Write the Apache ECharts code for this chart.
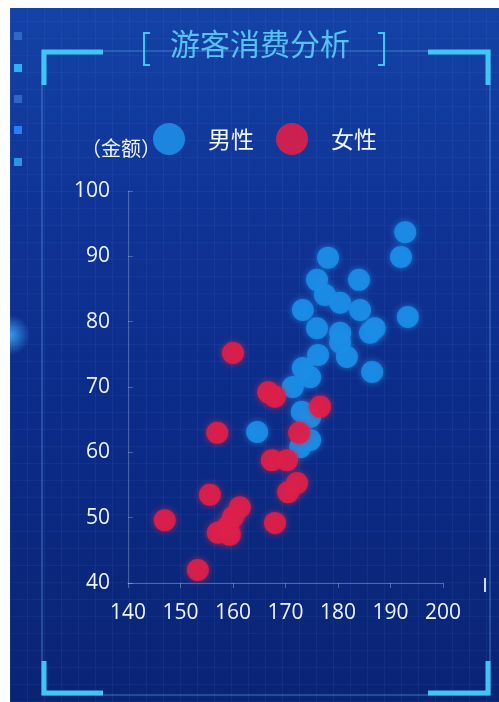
<!DOCTYPE html>
<html>
<head>
<meta charset="utf-8">
<script src="https://cdn.jsdelivr.net/npm/echarts@6/dist/echarts.min.js"></script>
<style>
  html, body { margin: 0; padding: 0; background: #ffffff; }
  #wrap {
    position: absolute; left: 10px; top: 8px; width: 489px; height: 694px;
    background-color: #0d2c8c;
    background-image:
      repeating-linear-gradient(90deg, rgba(120,170,255,0.07) 0px, rgba(120,170,255,0.07) 1px, transparent 1px, transparent 17px),
      repeating-linear-gradient(0deg, rgba(120,170,255,0.06) 0px, rgba(120,170,255,0.06) 1px, transparent 1px, transparent 17px),
      linear-gradient(180deg, #1442a6 0%, #0f3396 30%, #0c2b88 60%, #0a2474 100%);
  }
  #chart { position: absolute; left: 0; top: 0; width: 499px; height: 702px; }
</style>
</head>
<body>
<div id="wrap"></div>
<div id="chart"></div>
<script>
// Height (cm) vs. spending for male and female visitors
const seriesNames = ['男性', '女性'];
const xTicks = [140, 150, 160, 170, 180, 190, 200];
const yTicks = [40, 50, 60, 70, 80, 90, 100];

const maleData = [
  [192.8, 93.7], [192.0, 89.9], [178.1, 89.8], [176.0, 86.4], [184.0, 86.4],
  [177.5, 84.1], [180.4, 82.9], [173.3, 81.8], [184.2, 81.8], [193.3, 80.7],
  [176.0, 79.0], [180.4, 78.3], [187.0, 79.0], [186.1, 78.3], [180.4, 76.8],
  [181.7, 74.6], [186.5, 72.3], [176.2, 74.9], [173.3, 72.9], [174.7, 71.5],
  [171.4, 70.0], [173.1, 66.2], [174.7, 65.4], [174.7, 61.9], [172.8, 60.8],
  [164.6, 63.1]
];
const femaleData = [
  [147.0, 49.6], [153.3, 42.0], [155.6, 53.5], [157.0, 63.0], [160.0, 75.2],
  [157.1, 47.7], [159.0, 48.6], [159.4, 47.4], [160.0, 50.1], [161.3, 51.6],
  [166.7, 69.2], [168.0, 68.5], [176.6, 67.0], [172.6, 63.0], [167.4, 58.8],
  [170.3, 58.8], [172.2, 55.3], [170.5, 53.9], [168.0, 49.2]
];

const cyan = '#3fc6f5';
const frameThin = 'rgba(110,190,255,0.35)';
const labelFont = '"Open Sans", "Noto Sans", sans-serif';

const chart = echarts.init(document.getElementById('chart'), null, { renderer: 'canvas' });

const graphic = [
  // thin frame lines
  { type: 'line', shape: { x1: 42, y1: 50, x2: 42, y2: 695 }, style: { stroke: frameThin, lineWidth: 1.5 } },
  { type: 'line', shape: { x1: 490, y1: 50, x2: 490, y2: 695 }, style: { stroke: frameThin, lineWidth: 1.5 } },
  { type: 'line', shape: { x1: 42, y1: 51, x2: 490, y2: 51 }, style: { stroke: 'rgba(120,200,255,0.45)', lineWidth: 1 } },
  { type: 'line', shape: { x1: 42, y1: 695, x2: 490, y2: 695 }, style: { stroke: frameThin, lineWidth: 1.5 } },
  // thick corners
  { type: 'polyline', shape: { points: [[44, 85], [44, 52], [103, 52]] }, style: { stroke: cyan, lineWidth: 5, fill: null } },
  { type: 'polyline', shape: { points: [[428, 52], [488, 52], [488, 85]] }, style: { stroke: cyan, lineWidth: 5, fill: null } },
  { type: 'polyline', shape: { points: [[44, 661], [44, 693], [103, 693]] }, style: { stroke: cyan, lineWidth: 5, fill: null } },
  { type: 'polyline', shape: { points: [[428, 693], [488, 693], [488, 661]] }, style: { stroke: cyan, lineWidth: 5, fill: null } },
  // title brackets
  { type: 'polyline', shape: { points: [[150, 33], [144, 33], [144, 65], [150, 65]] }, style: { stroke: cyan, lineWidth: 2, fill: null } },
  { type: 'polyline', shape: { points: [[378, 33], [384, 33], [384, 65], [378, 65]] }, style: { stroke: cyan, lineWidth: 2, fill: null } },
  // side indicators
  { type: 'rect', shape: { x: 14, y: 32, width: 8, height: 8 }, style: { fill: 'rgba(60,120,210,0.7)' } },
  { type: 'rect', shape: { x: 14, y: 64, width: 8, height: 8 }, style: { fill: '#2fb2f5' } },
  { type: 'rect', shape: { x: 14, y: 95, width: 8, height: 8 }, style: { fill: 'rgba(60,120,210,0.7)' } },
  { type: 'rect', shape: { x: 14, y: 126, width: 8, height: 8 }, style: { fill: '#2a7df5' } },
  { type: 'rect', shape: { x: 14, y: 158, width: 8, height: 8 }, style: { fill: '#2a98e0' } },
  // glow at the left edge
  { type: 'circle', shape: { cx: 10, cy: 335, r: 20 }, style: { fill: new echarts.graphic.RadialGradient(0.5, 0.5, 0.5, [
      { offset: 0, color: 'rgba(60,170,255,0.9)' }, { offset: 1, color: 'rgba(60,170,255,0)' }]) } },
  { type: 'rect', shape: { x: 0, y: 300, width: 10, height: 70 }, style: { fill: '#ffffff' } },
  // small marker past the x axis end
  { type: 'line', shape: { x1: 485, y1: 578, x2: 485, y2: 592 }, style: { stroke: 'rgba(230,240,255,0.9)', lineWidth: 2 } },
  // title
  { type: 'text', left: 170, top: 29, style: { text: '游客消费分析', fill: '#55c3f2', font: '30px "Noto Sans CJK SC", sans-serif' }, z: 10 }
];

chart.setOption({
  backgroundColor: 'transparent',
  animation: false,
  graphic: graphic,
  legend: {
    data: seriesNames,
    left: 148, top: 118,
    itemWidth: 32, itemHeight: 32,
    itemGap: 22,
    icon: 'circle',
    textStyle: { color: '#f2f6ff', fontSize: 23, fontFamily: '"Noto Sans CJK SC", sans-serif', padding: [0, 0, 0, 18] }
  },
  grid: { left: 128, right: 56, top: 191, bottom: 119 },
  xAxis: {
    type: 'value', min: xTicks[0], max: xTicks[xTicks.length - 1], interval: 10,
    axisLine: { show: true, lineStyle: { color: 'rgba(200,220,255,0.35)' } },
    axisTick: { show: true, lineStyle: { color: 'rgba(200,220,255,0.35)' } },
    axisLabel: { color: '#eef4ff', fontSize: 21, margin: 20, fontFamily: labelFont },
    splitLine: { show: false }
  },
  yAxis: {
    type: 'value', min: yTicks[0], max: yTicks[yTicks.length - 1], interval: 10,
    name: '（金额）', nameGap: 33,
    nameTextStyle: { color: '#eef4ff', fontSize: 20, fontFamily: '"Noto Sans CJK SC", sans-serif', padding: [0, 14, 0, 0] },
    axisLine: { show: true, lineStyle: { color: 'rgba(200,220,255,0.3)' } },
    axisTick: { show: true, inside: true, lineStyle: { color: 'rgba(200,220,255,0.3)' } },
    axisLabel: { color: '#eef4ff', fontSize: 21, margin: 18, fontFamily: labelFont },
    splitLine: { show: false }
  },
  series: [
    {
      name: seriesNames[0], type: 'scatter', data: maleData, symbolSize: 22,
      itemStyle: { color: '#1b8de6', opacity: 0.92, shadowBlur: 6, shadowColor: 'rgba(27,141,230,0.8)' }
    },
    {
      name: seriesNames[1], type: 'scatter', data: femaleData, symbolSize: 22,
      itemStyle: { color: '#dc1f4a', opacity: 0.92, shadowBlur: 6, shadowColor: 'rgba(220,31,74,0.8)' }
    }
  ]
});
</script>
</body>
</html>
